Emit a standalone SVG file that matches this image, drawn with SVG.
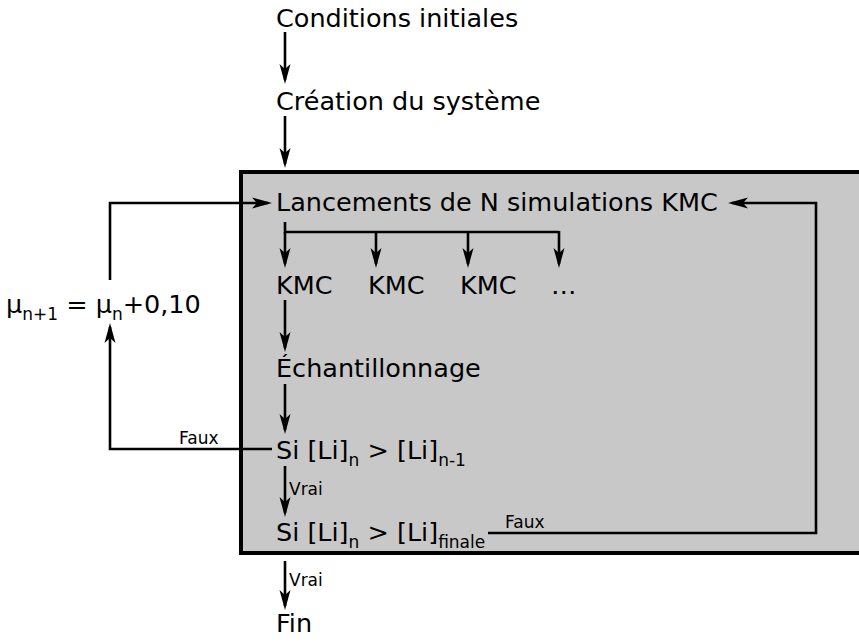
<svg xmlns="http://www.w3.org/2000/svg" width="859" height="642" viewBox="0 0 859 642">
<style>
text{font-family:"DejaVu Sans","Liberation Sans",sans-serif;fill:#000}
.t{font-size:25.5px}
.s{font-size:17px}
.l{fill:none;stroke:#000;stroke-width:2.6}
.a{marker-end:url(#ah)}
</style>
<defs>
<marker id="ah" markerUnits="userSpaceOnUse" viewBox="-22 -7 24 14" markerWidth="24" markerHeight="14" refX="-4" refY="0" orient="auto">
<path d="M0,0 L-20,-5.5 L-15,0 L-20,5.5 Z" fill="#000"/>
</marker>
</defs>
<rect x="0" y="0" width="859" height="642" fill="#fff"/>
<g id="box"><rect x="241" y="172" width="625" height="381" fill="#c8c8c8" stroke="#000" stroke-width="4"/></g>
<g id="connectors">
<line class="l a" x1="285" y1="32" x2="285" y2="80"/>
<line class="l a" x1="285" y1="116" x2="285" y2="164"/>
<polyline class="l" points="285,222 285,232 559,232"/>
<line class="l a" x1="285" y1="232" x2="285" y2="264"/>
<line class="l a" x1="376" y1="232" x2="376" y2="264"/>
<line class="l a" x1="468" y1="232" x2="468" y2="264"/>
<line class="l a" x1="559" y1="231" x2="559" y2="264"/>
<line class="l a" x1="285" y1="300" x2="285" y2="348"/>
<line class="l a" x1="285" y1="384" x2="285" y2="430"/>
<line class="l a" x1="285" y1="466" x2="285" y2="513"/>
<line class="l a" x1="285" y1="561" x2="285" y2="606"/>
<polyline class="l a" points="272,449 110,449 110,327"/>
<polyline class="l a" points="110,280 110,203 268,203"/>
<polyline class="l a" points="488,533 816,533 816,203 732,203"/>
<text class="s" x="179" y="444">Faux</text>
<text class="s" x="505" y="528">Faux</text>
<text class="s" x="289" y="495">Vrai</text>
<text class="s" x="289" y="586">Vrai</text>
</g>
<g id="n-cond"><text class="t" x="276" y="27">Conditions initiales</text></g>
<g id="n-crea"><text class="t" x="276" y="110">Création du système</text></g>
<g id="n-lanc"><text class="t" x="276" y="211">Lancements de N simulations KMC</text></g>
<g id="n-kmc1"><text class="t" x="276" y="294">KMC</text></g>
<g id="n-kmc2"><text class="t" x="368" y="294">KMC</text></g>
<g id="n-kmc3"><text class="t" x="460" y="294">KMC</text></g>
<g id="n-dots"><text class="t" x="551" y="294">…</text></g>
<g id="n-ech"><text class="t" x="276" y="377">Échantillonnage</text></g>
<g id="n-si1"><text class="t" x="276" y="459">Si [Li]<tspan class="s" dy="7">n</tspan><tspan dy="-7"> &gt; [Li]</tspan><tspan class="s" dy="7">n-1</tspan></text></g>
<g id="n-si2"><text class="t" x="276" y="541">Si [Li]<tspan class="s" dy="7">n</tspan><tspan dy="-7"> &gt; [Li]</tspan><tspan class="s" dy="7">finale</tspan></text></g>
<g id="n-fin"><text class="t" x="276" y="632">Fin</text></g>
<g id="n-mu"><text class="t" x="6" y="313">μ<tspan class="s" dy="7">n+1</tspan><tspan dy="-7"> = μ</tspan><tspan class="s" dy="7">n</tspan><tspan dy="-7">+0,10</tspan></text></g>
</svg>
